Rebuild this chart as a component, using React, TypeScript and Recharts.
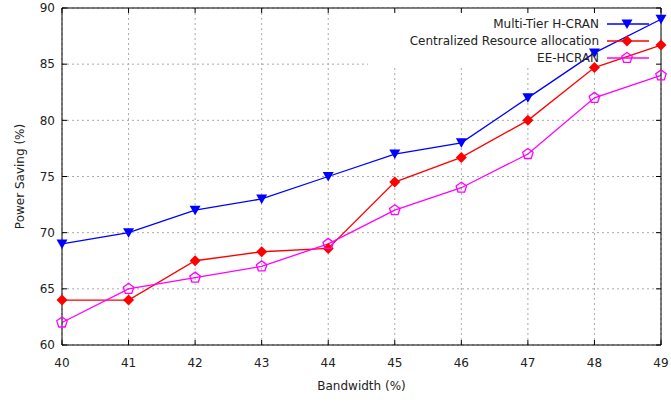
import {
  LineChart,
  Line,
  XAxis,
  YAxis,
  CartesianGrid,
  Legend,
  ReferenceArea,
  Label,
} from "recharts";

const bandwidth = [40, 41, 42, 43, 44, 45, 46, 47, 48, 49];
const multiTier = [69, 70, 72, 73, 75, 77, 78, 82, 86, 89];
const centralized = [64, 64, 67.5, 68.3, 68.6, 74.5, 76.7, 80, 84.7, 86.7];
const eeHcran = [62, 65, 66, 67, 69, 72, 74, 77, 82, 84];
const yTicks = [60, 65, 70, 75, 80, 85, 90];

const BLUE = "#0000ff";
const RED = "#ff0000";
const MAGENTA = "#ff00ff";
const FONT = "'DejaVu Sans', sans-serif";

const data = bandwidth.map((bw, i) => ({
  bw,
  multiTier: multiTier[i],
  centralized: centralized[i],
  eeHcran: eeHcran[i],
}));

const triangle = (cx: number, cy: number) =>
  `M${cx - 5.5},${cy - 4.5} L${cx + 5.5},${cy - 4.5} L${cx},${cy + 5} Z`;
const diamond = (cx: number, cy: number) =>
  `M${cx},${cy - 5.5} L${cx + 5.5},${cy} L${cx},${cy + 5.5} L${cx - 5.5},${cy} Z`;
const pentagon = (cx: number, cy: number) =>
  [0, 1, 2, 3, 4]
    .map((k) => {
      const a = ((-90 + 72 * k) * Math.PI) / 180;
      return `${k === 0 ? "M" : "L"}${cx + 5.5 * Math.cos(a)},${cy + 5.5 * Math.sin(a)}`;
    })
    .join(" ") + " Z";

const TriangleDot = (p: any) => <path key={p.index} d={triangle(p.cx, p.cy)} fill={BLUE} />;
const DiamondDot = (p: any) => <path key={p.index} d={diamond(p.cx, p.cy)} fill={RED} />;
const PentagonDot = (p: any) => (
  <path key={p.index} d={pentagon(p.cx, p.cy)} fill="none" stroke={MAGENTA} strokeWidth={1.3} />
);

const legendRows = [
  { name: "Multi-Tier H-CRAN", color: BLUE, shape: triangle, filled: true },
  { name: "Centralized Resource allocation", color: RED, shape: diamond, filled: true },
  { name: "EE-HCRAN", color: MAGENTA, shape: pentagon, filled: false },
];

const KeyContent = () => (
  <div style={{ fontFamily: FONT, fontSize: 12, color: "#222" }}>
    {legendRows.map((r) => (
      <div
        key={r.name}
        style={{ display: "flex", justifyContent: "flex-end", alignItems: "center", height: 17 }}
      >
        <span>{r.name}</span>
        <svg width={42} height={14} style={{ marginLeft: 8 }}>
          <line x1={0} x2={42} y1={7} y2={7} stroke={r.color} strokeWidth={1.3} />
          <path
            d={r.shape(20, 7)}
            fill={r.filled ? r.color : "none"}
            stroke={r.filled ? "none" : r.color}
            strokeWidth={1.3}
          />
        </svg>
      </div>
    ))}
  </div>
);

export default function App() {
  const tick = { fill: "#222", fontSize: 12, fontFamily: FONT };
  return (
    <div style={{ position: "absolute", left: 0, top: 0, background: "#fff" }}>
      <LineChart
        width={671}
        height={403}
        data={data}
        margin={{ top: 7, right: 9, left: 0, bottom: 0 }}
      >
        <CartesianGrid
          xAxisId="b"
          yAxisId="l"
          stroke="#aaa"
          strokeDasharray="2 3"
        />
        <ReferenceArea
          xAxisId="b"
          yAxisId="l"
          x1={44.6}
          x2={49}
          y1={84.85}
          y2={90}
          fill="#fff"
          fillOpacity={1}
          stroke="none"
        />
        <XAxis
          xAxisId="b"
          dataKey="bw"
          type="number"
          domain={[40, 49]}
          ticks={bandwidth}
          height={58}
          stroke="#000"
          tickSize={-5}
          tickMargin={18}
          tick={tick}
        >
          <Label
            value="Bandwidth (%)"
            position="insideBottom"
            offset={13}
            style={{ fill: "#222", fontSize: 12, fontFamily: FONT }}
          />
        </XAxis>
        <XAxis
          xAxisId="t"
          orientation="top"
          dataKey="bw"
          type="number"
          domain={[40, 49]}
          ticks={bandwidth}
          height={1}
          stroke="#000"
          tickSize={-5}
          tickFormatter={() => ""}
        />
        <YAxis
          yAxisId="l"
          type="number"
          domain={[60, 90]}
          ticks={yTicks}
          width={62}
          stroke="#000"
          tickSize={-5}
          tickMargin={12}
          tick={tick}
        >
          <Label
            value="Power Saving (%)"
            angle={-90}
            position="insideLeft"
            offset={20}
            style={{ fill: "#222", fontSize: 12, fontFamily: FONT, textAnchor: "middle" }}
          />
        </YAxis>
        <YAxis
          yAxisId="r"
          orientation="right"
          type="number"
          domain={[60, 90]}
          ticks={yTicks}
          width={1}
          stroke="#000"
          tickSize={-5}
          tickFormatter={() => ""}
        />
        <Legend
          layout="vertical"
          align="center"
          verticalAlign="middle"
          content={<KeyContent />}
          wrapperStyle={{ left: 307, top: 15, width: 342, height: "auto" }}
        />
        {/* invisible series so the mirrored top/right axes get drawn */}
        <Line
          xAxisId="t"
          yAxisId="r"
          dataKey="multiTier"
          stroke="none"
          dot={false}
          activeDot={false}
          legendType="none"
          isAnimationActive={false}
        />
        <Line
          xAxisId="b"
          yAxisId="l"
          dataKey="multiTier"
          stroke={BLUE}
          strokeWidth={1.3}
          dot={TriangleDot}
          isAnimationActive={false}
        />
        <Line
          xAxisId="b"
          yAxisId="l"
          dataKey="centralized"
          stroke={RED}
          strokeWidth={1.3}
          dot={DiamondDot}
          isAnimationActive={false}
        />
        <Line
          xAxisId="b"
          yAxisId="l"
          dataKey="eeHcran"
          stroke={MAGENTA}
          strokeWidth={1.3}
          dot={PentagonDot}
          isAnimationActive={false}
        />
      </LineChart>
    </div>
  );
}
